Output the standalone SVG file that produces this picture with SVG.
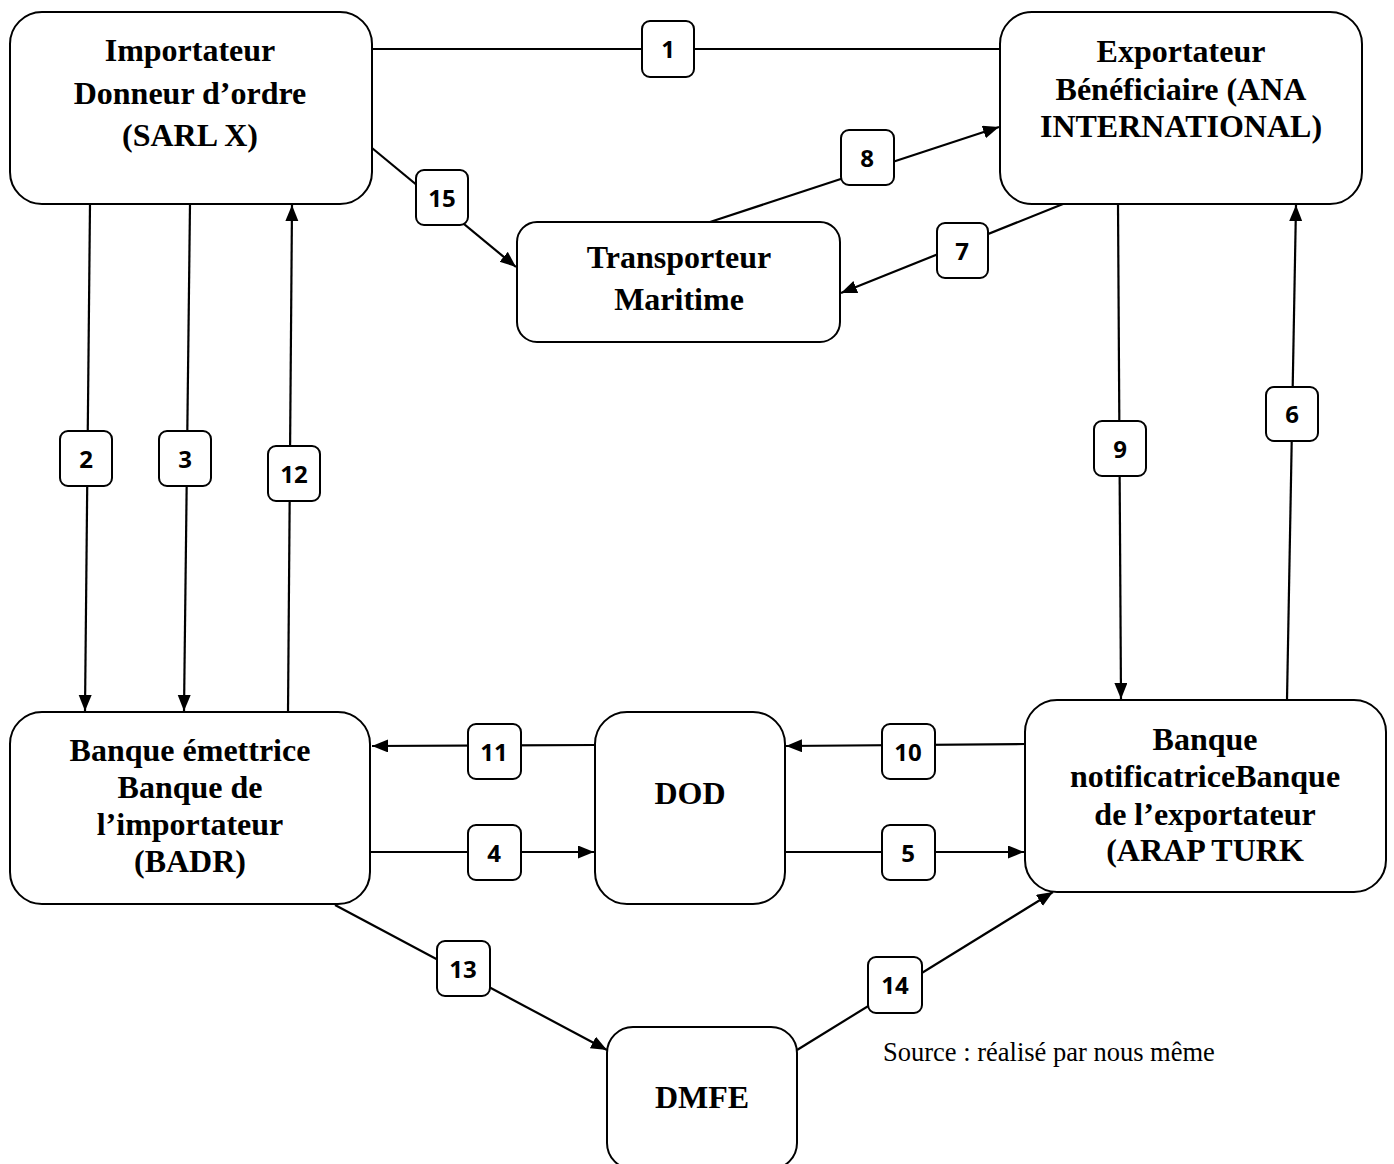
<svg xmlns="http://www.w3.org/2000/svg" width="1394" height="1164" viewBox="0 0 1394 1164">
<style>
.node{fill:#fff;stroke:#000;stroke-width:2}
.nt{font-family:"Liberation Serif","Times New Roman",serif;font-weight:bold;font-size:32px;text-anchor:middle;fill:#000}
.ln{stroke:#000;stroke-width:2.2;fill:none}
.lb{fill:#fff;stroke:#000;stroke-width:2}
.lt{font-family:"Open Sans","Liberation Sans",sans-serif;font-weight:bold;font-size:24px;text-anchor:middle;fill:#000}
.src{font-family:"Liberation Serif","Times New Roman",serif;font-size:26.5px;fill:#000}
</style>
<defs>
<marker id="ah" markerUnits="userSpaceOnUse" markerWidth="18" markerHeight="14" refX="16" refY="6.5" orient="auto">
<path d="M0,0 L16,6.5 L0,13 z" fill="#000"/>
</marker>
</defs>
<rect width="1394" height="1164" fill="#fff"/>

<g id="connectors">
<line class="ln" x1="372" y1="49" x2="1000" y2="49"/>
<line class="ln" x1="90" y1="204" x2="85" y2="711" marker-end="url(#ah)"/>
<line class="ln" x1="190" y1="204" x2="184" y2="711" marker-end="url(#ah)"/>
<line class="ln" x1="288" y1="712" x2="292" y2="205" marker-end="url(#ah)"/>
<line class="ln" x1="372" y1="148" x2="516" y2="267" marker-end="url(#ah)"/>
<line class="ln" x1="710" y1="222" x2="999" y2="127" marker-end="url(#ah)"/>
<line class="ln" x1="1063" y1="204" x2="841" y2="293" marker-end="url(#ah)"/>
<line class="ln" x1="1118" y1="204" x2="1121" y2="699" marker-end="url(#ah)"/>
<line class="ln" x1="1287" y1="700" x2="1296" y2="205" marker-end="url(#ah)"/>
<line class="ln" x1="595" y1="745" x2="372" y2="746" marker-end="url(#ah)"/>
<line class="ln" x1="370" y1="852" x2="594" y2="852" marker-end="url(#ah)"/>
<line class="ln" x1="1025" y1="744" x2="786" y2="746" marker-end="url(#ah)"/>
<line class="ln" x1="785" y1="852" x2="1024" y2="852" marker-end="url(#ah)"/>
<line class="ln" x1="335" y1="905" x2="607" y2="1050" marker-end="url(#ah)"/>
<line class="ln" x1="797" y1="1050" x2="1053" y2="892" marker-end="url(#ah)"/>

<g id="labels">
<rect class="lb" x="642" y="21" width="52" height="56" rx="8"/><text class="lt" x="668" y="58">1</text>
<rect class="lb" x="60" y="431" width="52" height="55" rx="8"/><text class="lt" x="86" y="468">2</text>
<rect class="lb" x="159" y="431" width="52" height="55" rx="8"/><text class="lt" x="185" y="468">3</text>
<rect class="lb" x="268" y="446" width="52" height="55" rx="8"/><text class="lt" x="294" y="483">12</text>
<rect class="lb" x="416" y="170" width="52" height="55" rx="8"/><text class="lt" x="442" y="207">15</text>
<rect class="lb" x="841" y="130" width="53" height="55" rx="8"/><text class="lt" x="867" y="167">8</text>
<rect class="lb" x="937" y="223" width="51" height="55" rx="8"/><text class="lt" x="962" y="260">7</text>
<rect class="lb" x="1094" y="421" width="52" height="55" rx="8"/><text class="lt" x="1120" y="458">9</text>
<rect class="lb" x="1266" y="387" width="52" height="54" rx="8"/><text class="lt" x="1292" y="423">6</text>
<rect class="lb" x="468" y="724" width="53" height="55" rx="8"/><text class="lt" x="494" y="761">11</text>
<rect class="lb" x="468" y="825" width="53" height="55" rx="8"/><text class="lt" x="494" y="862">4</text>
<rect class="lb" x="882" y="724" width="53" height="55" rx="8"/><text class="lt" x="908" y="761">10</text>
<rect class="lb" x="882" y="825" width="53" height="55" rx="8"/><text class="lt" x="908" y="862">5</text>
<rect class="lb" x="437" y="941" width="53" height="55" rx="8"/><text class="lt" x="463" y="978">13</text>
<rect class="lb" x="868" y="957" width="54" height="56" rx="8"/><text class="lt" x="895" y="994">14</text>
</g>
</g>

<g id="importateur">
<rect class="node" x="10" y="12" width="362" height="192" rx="32"/>
<text class="nt" x="190" y="61">Importateur</text>
<text class="nt" x="190" y="104">Donneur d’ordre</text>
<text class="nt" x="190" y="146">(SARL X)</text>
</g>

<g id="exportateur">
<rect class="node" x="1000" y="12" width="362" height="192" rx="32"/>
<text class="nt" x="1181" y="62">Exportateur</text>
<text class="nt" x="1181" y="100">Bénéficiaire (ANA</text>
<text class="nt" x="1181" y="137">INTERNATIONAL)</text>
</g>

<g id="transporteur">
<rect class="node" x="517" y="222" width="323" height="120" rx="20"/>
<text class="nt" x="679" y="268">Transporteur</text>
<text class="nt" x="679" y="310">Maritime</text>
</g>

<g id="banque-emettrice">
<rect class="node" x="10" y="712" width="360" height="192" rx="32"/>
<text class="nt" x="190" y="761">Banque émettrice</text>
<text class="nt" x="190" y="798">Banque de</text>
<text class="nt" x="190" y="835">l’importateur</text>
<text class="nt" x="190" y="872">(BADR)</text>
</g>

<g id="dod">
<rect class="node" x="595" y="712" width="190" height="192" rx="32"/>
<text class="nt" x="690" y="804">DOD</text>
</g>

<g id="banque-notificatrice">
<rect class="node" x="1025" y="700" width="361" height="192" rx="32"/>
<text class="nt" x="1205" y="750">Banque</text>
<text class="nt" x="1205" y="787">notificatriceBanque</text>
<text class="nt" x="1205" y="825">de l’exportateur</text>
<text class="nt" x="1205" y="861">(ARAP TURK</text>
</g>

<g id="dmfe">
<rect class="node" x="607" y="1027" width="190" height="142" rx="26"/>
<text class="nt" x="702" y="1108">DMFE</text>
</g>

<text class="src" x="883" y="1061">Source : réalisé par nous même</text>
</svg>
